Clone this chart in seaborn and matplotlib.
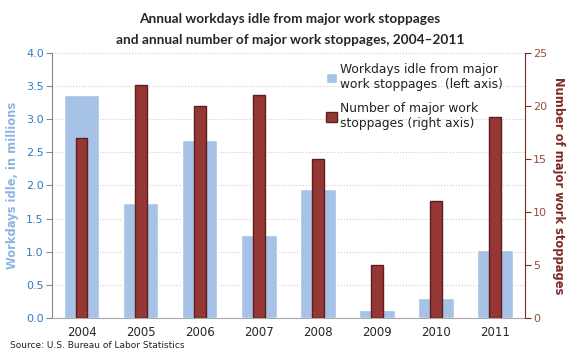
import pandas as pd
import matplotlib.pyplot as plt
import seaborn as sns

# Data
years = ["2004", "2005", "2006", "2007", "2008", "2009", "2010", "2011"]
idle_millions = [3.37, 1.74, 2.69, 1.26, 1.95, 0.12, 0.30, 1.02]
stoppages = [17, 22, 20, 21, 15, 5, 11, 19]

df = pd.DataFrame({"year": years, "idle": idle_millions, "stoppages": stoppages})

sns.set_style("white")
plt.rcParams["font.family"] = ["DejaVu Sans"]

blue = "#A6C3E7"
red = "#953735"
red_edge = "#5C1F1E"
tick_blue = "#2F7BC4"
label_blue = "#8DB4E2"
right_red = "#7F2A28"

fig = plt.figure(figsize=(5.8, 3.63), dpi=100)
ax = fig.add_axes([0.0897, 0.124, 0.815, 0.730])

sns.barplot(data=df, x="year", y="idle", color=blue, width=0.6, ax=ax,
            saturation=1, label="Workdays idle from major\nwork stoppages  (left axis)")
ax.set_ylim(0, 4)
ax.set_yticks([0, 0.5, 1, 1.5, 2, 2.5, 3, 3.5, 4])
ax.set_yticklabels([f"{v:.1f}" for v in ax.get_yticks()], color=tick_blue, fontsize=8)
ax.set_ylabel("Workdays idle, in millions", color=label_blue, fontsize=8.3,
              fontweight="bold", labelpad=5)
ax.set_xlabel("")
ax.tick_params(axis="x", labelsize=8.5, length=0, pad=6)
ax.tick_params(axis="y", length=4, color="#888888", pad=2)
ax.yaxis.grid(True, linestyle=":", color="#CCCCCC", linewidth=0.8)
ax.set_axisbelow(True)
for s in ["top", "right"]:
    ax.spines[s].set_visible(False)
ax.spines["left"].set_color("#888888")
ax.spines["bottom"].set_color("#AAAAAA")
# small separators between categories on x axis
ax.set_xticks(range(len(years)), minor=False)
ax.set_xticks([i + 0.5 for i in range(-1, len(years))], minor=True)
ax.tick_params(axis="x", which="minor", length=4, color="#AAAAAA")

ax2 = ax.twinx()
sns.barplot(data=df, x="year", y="stoppages", color=red, width=0.2, ax=ax2,
            saturation=1, edgecolor=red_edge, linewidth=1,
            label="Number of major work\nstoppages (right axis)")
ax2.set_ylim(0, 25)
ax2.set_yticks([0, 5, 10, 15, 20, 25])
ax2.set_yticklabels(["0", "5", "10", "15", "20", "25"], color="#9B4A3A", fontsize=8)
ax2.set_ylabel("Number of major work stoppages", color=right_red, fontsize=8.3,
               fontweight="bold", rotation=270, labelpad=13)
ax2.tick_params(axis="y", length=4, color=right_red, pad=2)
for s in ["top", "left", "bottom"]:
    ax2.spines[s].set_visible(False)
ax2.spines["right"].set_color(right_red)
ax.set_xlim(-0.5, len(years) - 0.5)

h1, l1 = ax.get_legend_handles_labels()
h2, l2 = ax2.get_legend_handles_labels()
if ax.get_legend():
    ax.get_legend().remove()
if ax2.get_legend():
    ax2.get_legend().remove()
ax2.legend(h1 + h2, l1 + l2, loc="upper left", bbox_to_anchor=(0.57, 0.98),
           frameon=False, fontsize=8.8, handlelength=0.85, handleheight=0.85,
           handletextpad=0.3, labelspacing=0.9, labelcolor="#222222",
           borderaxespad=0)

fig.suptitle("Annual workdays idle from major work stoppages\n"
             "and annual number of major work stoppages, 2004\u20132011",
             fontsize=9.8, fontweight="bold", y=0.965, x=0.5, linespacing=1.9,
             family=["Lato", "DejaVu Sans"])
fig.text(0.017, 0.04, "Source: U.S. Bureau of Labor Statistics", fontsize=6.5,
         color="#222222")

fig.savefig("out.png", dpi=100)
